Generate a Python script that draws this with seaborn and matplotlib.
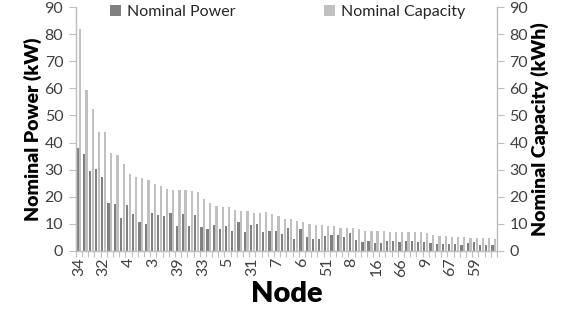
import numpy as np
import pandas as pd
import seaborn as sns
import matplotlib
import matplotlib.pyplot as plt

matplotlib.use('Agg')

# values, nodes sorted by capacity
power = [37.8, 35.8, 29.5, 30.3, 27.4, 17.6, 17.4, 12.2, 17.0, 13.6,
         10.6, 9.8, 13.9, 13.4, 12.7, 13.9, 9.2, 13.6, 9.2, 13.4,
         8.9, 8.1, 9.5, 8.2, 9.2, 7.4, 10.6, 6.9, 9.7, 10.0,
         6.9, 7.5, 7.5, 6.2, 8.6, 4.3, 8.0, 5.3, 4.3, 4.3,
         5.5, 5.9, 5.9, 5.3, 6.5, 4.1, 3.3, 3.6, 2.8, 2.8,
         3.7, 3.6, 3.1, 3.6, 3.6, 3.3, 3.1, 2.8, 2.5, 2.7,
         2.5, 2.7, 2.2, 3.0, 3.1, 2.2, 2.1, 2.2]
capacity = [82.0, 59.2, 52.3, 44.0, 44.0, 36.0, 35.4, 32.1, 28.4, 27.2,
            26.8, 26.1, 24.6, 24.0, 22.8, 22.4, 22.3, 22.3, 22.0, 21.7,
            19.1, 17.6, 16.4, 16.1, 16.1, 15.1, 14.9, 14.8, 14.0, 14.0,
            14.3, 13.5, 13.0, 11.7, 11.7, 11.2, 10.5, 10.0, 9.7, 9.7,
            9.2, 9.0, 8.6, 8.6, 8.6, 8.0, 7.5, 7.5, 7.5, 7.4,
            7.1, 7.0, 7.0, 7.0, 7.0, 6.8, 6.5, 6.0, 5.5, 5.5,
            5.3, 5.3, 5.0, 4.9, 4.9, 4.7, 4.6, 4.3]
labeled_nodes = ['34', '32', '4', '3', '39', '33', '5', '31', '7', '6',
                 '51', '8', '16', '66', '9', '67', '59']
label_step = 4
series_names = ['Nominal Power', 'Nominal Capacity']

n = len(power)
df = pd.DataFrame({
    'pos': list(range(n)) * 2,
    'value': power + capacity,
    'series': [series_names[0]] * n + [series_names[1]] * n,
})

sns.set_theme(style='white')
plt.rcParams['font.family'] = ['Lato', 'DejaVu Sans']

axis_col = '#bfbfbf'
text_col = '#404040'

fig = plt.figure(figsize=(5.66, 3.2), dpi=100)
ax = fig.add_axes([0.134, 0.216, 0.744, 0.762])
sns.barplot(data=df, x='pos', y='value', hue='series',
            palette=['#808080', '#c0c0c0'], width=0.9, gap=0.2,
            ax=ax, saturation=1, linewidth=0)

ax.set_xlim(-0.5, n - 0.5)
ax.set_ylim(0, 90)
ax.set_yticks(range(0, 91, 10))
ax.set_xticks(range(0, n, label_step))
ax.set_xticklabels(labeled_nodes, rotation=90, fontsize=11.5, color=text_col)
ax.set_xticks(np.arange(-0.5, n, 1), minor=True)
ax.tick_params(axis='x', which='major', length=0, pad=5)
ax.tick_params(axis='x', which='minor', length=4, color=axis_col, width=0.8, bottom=True)
ax.tick_params(axis='y', length=5, color=axis_col, width=0.8, left=True,
               labelsize=11.5, labelcolor=text_col, pad=4)
ax.set_xlabel('Node', fontsize=21, fontweight='heavy', color='black', labelpad=3)
ax.set_ylabel('Nominal Power (kW)', fontsize=14, fontweight='heavy', color='black', labelpad=2)

for side in ['left', 'bottom', 'right']:
    ax.spines[side].set_color(axis_col)
    ax.spines[side].set_linewidth(0.9)
ax.spines['top'].set_visible(False)

ax2 = ax.twinx()
ax2.set_ylim(0, 90)
ax2.set_yticks(range(0, 91, 10))
ax2.tick_params(axis='y', length=5, color=axis_col, width=0.8, right=True,
                labelsize=11.5, labelcolor=text_col, pad=4)
ax2.set_ylabel('Nominal Capacity (kWh)', fontsize=14, fontweight='heavy',
               color='black', rotation=90, labelpad=2)
for side in ['left', 'bottom', 'right']:
    ax2.spines[side].set_color(axis_col)
    ax2.spines[side].set_linewidth(0.9)
ax2.spines['top'].set_visible(False)

handles, labels = ax.get_legend_handles_labels()
ax.get_legend().remove()
fig.legend(handles, labels, loc='center', bbox_to_anchor=(0.508, 0.9625),
           ncol=2, frameon=False, columnspacing=5.5, handlelength=0.7,
           handleheight=0.7, handletextpad=0.4, fontsize=11.5, labelcolor='#262626')

fig.savefig('out.png', dpi=100)
